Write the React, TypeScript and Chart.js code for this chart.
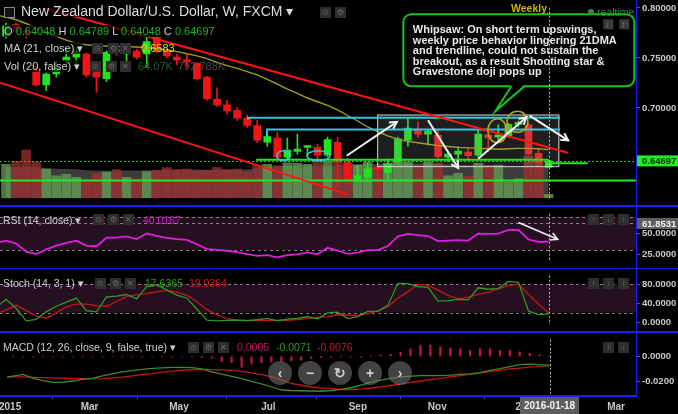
import React, { useEffect, useRef } from 'react';
import { Chart, registerables } from 'chart.js';
Chart.register(...registerables);

const FONT = '"Liberation Sans", Arial, sans-serif';

// Weekly bars: index 0 = week of 2015-01-05, index 54 = week of 2016-01-18
const opens = [0.7719, 0.7833, 0.7771, 0.7401, 0.7231, 0.7339, 0.7472, 0.7509, 0.7540, 0.7370, 0.7293, 0.7586, 0.7540, 0.7570, 0.7540, 0.7709, 0.7570, 0.7509, 0.7466, 0.7447, 0.7308, 0.7086, 0.7031, 0.6975, 0.6898, 0.6824, 0.6657, 0.6697, 0.6506, 0.6565, 0.6604, 0.6607, 0.6528, 0.6656, 0.6459, 0.6290, 0.6306, 0.6398, 0.6352, 0.6459, 0.6676, 0.6790, 0.6737, 0.6728, 0.6506, 0.6537, 0.6559, 0.6528, 0.6731, 0.6707, 0.6722, 0.6836, 0.6830, 0.6546, 0.64048];
const highs = [0.7850, 0.7848, 0.7790, 0.7417, 0.7349, 0.7463, 0.7602, 0.7601, 0.7555, 0.7432, 0.7571, 0.7632, 0.7617, 0.7590, 0.7710, 0.7740, 0.7590, 0.7540, 0.7540, 0.7450, 0.7317, 0.7200, 0.7077, 0.7006, 0.6929, 0.6876, 0.6783, 0.6753, 0.6697, 0.6737, 0.6626, 0.6635, 0.6707, 0.6707, 0.6490, 0.6429, 0.6450, 0.6413, 0.6488, 0.6707, 0.6891, 0.6861, 0.6783, 0.6783, 0.6568, 0.6614, 0.6599, 0.6783, 0.6731, 0.6830, 0.6845, 0.6870, 0.6845, 0.6598, 0.64789];
const lows = [0.7700, 0.7753, 0.7700, 0.7216, 0.7176, 0.7308, 0.7441, 0.7416, 0.7308, 0.7154, 0.7262, 0.7525, 0.7370, 0.7490, 0.7416, 0.7550, 0.7500, 0.7432, 0.7401, 0.7278, 0.7077, 0.7015, 0.6938, 0.6876, 0.6806, 0.6651, 0.6614, 0.6491, 0.6491, 0.6537, 0.6525, 0.6491, 0.6509, 0.6213, 0.6260, 0.6259, 0.6259, 0.6244, 0.6281, 0.6444, 0.6620, 0.6707, 0.6630, 0.6494, 0.6460, 0.6429, 0.6491, 0.6506, 0.6568, 0.6670, 0.6707, 0.6810, 0.6530, 0.6383, 0.64048];
const closes = [0.7821, 0.7771, 0.7740, 0.7231, 0.7339, 0.7401, 0.7509, 0.7570, 0.7330, 0.7308, 0.7556, 0.7560, 0.7577, 0.7509, 0.7663, 0.7570, 0.7520, 0.7478, 0.7460, 0.7293, 0.7093, 0.7031, 0.6969, 0.6900, 0.6824, 0.6676, 0.6713, 0.6506, 0.6577, 0.6589, 0.6614, 0.6528, 0.6682, 0.6459, 0.6274, 0.6321, 0.6389, 0.6383, 0.6438, 0.6691, 0.6799, 0.6737, 0.6769, 0.6512, 0.6537, 0.6568, 0.6522, 0.6737, 0.6700, 0.6722, 0.6836, 0.6840, 0.6537, 0.6450, 0.64697];
// volume (thousands) and its moving average
const volumes = [550, 600, 780, 590, 475, 365, 390, 340, 300, 405, 425, 465, 340, 315, 435, 450, 500, 465, 475, 450, 455, 500, 465, 475, 430, 530, 550, 530, 575, 565, 550, 600, 600, 630, 565, 540, 590, 500, 565, 615, 590, 515, 590, 565, 365, 405, 355, 565, 540, 540, 265, 315, 690, 615, 64];
const volMA = [510, 512, 515, 512, 488, 480, 475, 470, 455, 450, 448, 447, 450, 452, 455, 460, 462, 465, 466, 465, 464, 462, 463, 465, 468, 490, 510, 520, 525, 528, 530, 528, 525, 532, 545, 550, 555, 556, 558, 560, 560, 558, 555, 552, 545, 540, 535, 530, 528, 525, 520, 515, 512, 510, 508];

// indicator lines start one week earlier (index -1)
const lineFirstIdx = -1;
const ma21 = [0.7929, 0.7910, 0.7882, 0.7845, 0.7799, 0.7753, 0.7716, 0.7679, 0.7646, 0.7632, 0.7623, 0.7619, 0.7614, 0.7614, 0.7609, 0.7605, 0.7595, 0.7581, 0.7563, 0.7544, 0.7521, 0.7493, 0.7456, 0.7424, 0.7396, 0.7364, 0.7331, 0.7285, 0.7238, 0.7187, 0.7146, 0.7099, 0.7062, 0.7025, 0.6980, 0.6924, 0.6869, 0.6809, 0.6762, 0.6720, 0.6688, 0.6665, 0.6651, 0.6637, 0.6623, 0.6614, 0.6605, 0.6600, 0.6595, 0.6591, 0.6586, 0.6591, 0.6595, 0.6595, 0.6591, 0.6583];
const rsi = [38.4, 41.3, 37.7, 28.2, 25.3, 30.8, 35.2, 38.7, 41.2, 35.3, 34.6, 44.8, 45.0, 46.5, 43.2, 49.9, 47.1, 44.7, 43.0, 42.1, 36.9, 31.2, 30.1, 28.9, 27.4, 25.0, 23.0, 23.9, 21.2, 23.9, 24.9, 27.2, 24.9, 32.9, 29.3, 25.5, 27.0, 30.0, 30.0, 34.8, 46.5, 49.5, 48.0, 46.8, 40.8, 41.4, 42.0, 41.4, 49.8, 49.5, 49.8, 54.1, 54.1, 42.6, 39.9, 40.02];
const stochK = [31.0, 48.0, 29.2, 2.6, 5.6, 21.7, 33.5, 42.4, 50.7, 24.4, 21.8, 53.1, 54.9, 58.4, 49.1, 75.7, 78.8, 68.2, 57.0, 50.5, 27.3, 4.3, 2.6, 3.9, 4.0, 3.2, 5.0, 8.0, 2.7, 6.4, 7.7, 11.9, 7.1, 19.6, 21.0, 7.4, 11.8, 22.7, 22.7, 35.3, 82.0, 81.5, 75.0, 73.5, 44.5, 45.5, 48.0, 47.0, 72.5, 69.5, 71.0, 86.0, 84.0, 23.5, 15.8, 17.64];
const stochD = [17.0, 26.0, 35.6, 24.4, 13.2, 8.3, 19.6, 32.4, 38.2, 38.0, 34.8, 33.5, 43.6, 54.2, 57.4, 60.0, 63.7, 67.1, 63.2, 56.5, 43.2, 26.3, 15.1, 7.4, 4.0, 3.4, 3.2, 3.9, 4.0, 4.0, 5.1, 7.5, 10.1, 11.7, 15.6, 15.1, 14.0, 17.8, 23.8, 32.5, 50.5, 64.5, 79.5, 77.5, 67.5, 56.5, 49.0, 53.0, 58.5, 63.0, 70.5, 77.0, 80.5, 58.5, 38.5, 19.04];
const macd = [-0.0171, -0.0157, -0.0144, -0.0173, -0.0194, -0.0207, -0.0206, -0.0196, -0.0184, -0.0174, -0.0155, -0.0139, -0.0124, -0.0113, -0.0103, -0.0096, -0.0091, -0.0088, -0.0088, -0.0089, -0.0100, -0.0123, -0.0141, -0.0159, -0.0177, -0.0199, -0.0220, -0.0242, -0.0268, -0.0272, -0.0274, -0.0276, -0.0278, -0.0272, -0.0263, -0.0250, -0.0229, -0.0207, -0.0189, -0.0175, -0.0164, -0.0157, -0.0154, -0.0154, -0.0154, -0.0150, -0.0143, -0.0139, -0.0129, -0.0112, -0.0098, -0.0082, -0.0066, -0.0062, -0.0066, -0.0071];
const signal = [-0.0164, -0.0164, -0.0164, -0.0167, -0.0170, -0.0172, -0.0174, -0.0176, -0.0178, -0.0179, -0.0177, -0.0172, -0.0165, -0.0155, -0.0146, -0.0137, -0.0126, -0.0117, -0.0111, -0.0106, -0.0105, -0.0106, -0.0107, -0.0112, -0.0119, -0.0131, -0.0146, -0.0164, -0.0187, -0.0216, -0.0230, -0.0244, -0.0251, -0.0257, -0.0264, -0.0264, -0.0261, -0.0254, -0.0243, -0.0232, -0.0221, -0.0207, -0.0196, -0.0186, -0.0175, -0.0164, -0.0154, -0.0143, -0.0132, -0.0121, -0.0111, -0.0100, -0.0093, -0.0086, -0.0079, -0.0076];
const hist = [-0.0003, -0.0004, -0.0003, -0.0005, -0.0004, -0.0003, -0.0004, -0.0003, -0.0004, -0.0003, -0.0004, -0.0003, -0.0004, -0.0003, -0.0004, -0.0003, -0.0004, -0.0003, -0.0004, -0.0008, -0.0015, -0.0040, -0.0050, -0.0085, -0.0060, -0.0050, -0.0045, -0.0040, -0.0035, -0.0030, -0.0015, -0.0010, -0.0006, -0.0004, -0.0003, -0.0002, 0.0003, 0.0010, 0.0017, 0.0032, 0.0061, 0.0086, 0.0091, 0.0074, 0.0066, 0.0061, 0.0049, 0.0061, 0.0061, 0.0049, 0.0049, 0.0037, 0.0025, 0.0012, 0.0005];

const monthTickIdx = [0, 8, 17, 26, 35, 43, 52, 61];
const monthTickLabels = ['2015', 'Mar', 'May', 'Jul', 'Sep', 'Nov', '2016', 'Mar'];
const priceTicks = [0.7, 0.75, 0.8];
const rsiTicks = [25, 50];
const stochTicks = [0, 40, 80];
const macdTicks = [0, -0.02];
const lastIdx = 54;
const lastDate = '2016-01-18';
const lastPrice = 0.64697;
const rsiMarker = 61.8531;

// drawings (bar index, price)
const trendLines = [
  { x1: 3.68, y1: 0.8003, x2: 55.92, y2: 0.6552 },
  { x1: -0.6, y1: 0.7253, x2: 33.93, y2: 0.6137 },
];
const cyanLevels = [
  { x1: 24.08, x2: 55.12, y: 0.6901, tick: 0.6885 },
  { x1: 25.97, x2: 55.12, y: 0.6783, tick: 0.6707 },
];
const greenLevels = [
  { x1: 24.9, x2: 54.0, y: 0.6480 },
  { x1: 53.9, x2: 57.9, y: 0.6445 },
  { x1: -0.6, x2: 62.7, y: 0.6274 },
];
const rangeBox = { x1: 36.98, x2: 55.02, y1: 0.6929, y2: 0.6413 };
const whiteArrows = [
  { x1: 33.9, y1: 0.6521, x2: 38.9, y2: 0.6861 },
  { x1: 42.0, y1: 0.6876, x2: 45.0, y2: 0.6398 },
  { x1: 47.0, y1: 0.6491, x2: 51.8, y2: 0.6907 },
  { x1: 52.1, y1: 0.6922, x2: 55.95, y2: 0.6676 },
];
const rsiArrow = { x1: 51.0, y1: 63.1, x2: 54.9, y2: 42.9 };
const cyanEllipses = [
  { x: 27.6, y: 0.6521, rx: 6.5, ry: 5 },
  { x: 31.1, y: 0.6521, rx: 11.5, ry: 5 },
];
const yellowCircles = [
  { x: 48.9, y: 0.6771, rx: 9.5, ry: 12 },
  { x: 50.9, y: 0.6861, rx: 10.5, ry: 10.5 },
];
const calloutAnchor = { x: 48.7, y: 0.6966 };
const calloutLines = [
  'Whipsaw: On short term upswings,',
  'weekly price behavior lingering 21DMA',
  'and trendline, could not sustain the',
  'breakout, as a result Shooting star &',
  'Gravestone doji pops up',
];

const X_MIN = -0.6;
const X_MAX = 62.7;
const GREEN = '#1de41d';
const RED = '#f01414';

const up = opens.map((o, i) => closes[i] >= o);
const idx = opens.map((_, i) => i);
const lineData = (arr: number[]) => arr.map((v, k) => ({ x: k + lineFirstIdx, y: v }));

function yAxis(min: number, max: number, ticks: number[], digits: number) {
  return {
    position: 'right',
    min,
    max,
    afterFit: (s: any) => { s.width = 42; },
    afterBuildTicks: (s: any) => { s.ticks = ticks.map((v) => ({ value: v })); },
    ticks: {
      callback: (v: any) => Number(v).toFixed(digits),
      color: '#c8c8c8',
      font: { family: FONT, size: 9.5, weight: 'bold' },
      padding: 2,
      autoSkip: false,
    },
    grid: { drawOnChartArea: false, drawTicks: true, tickLength: 4, color: '#4b4bff' },
    border: { display: false },
  };
}
const xHidden = { type: 'linear', min: X_MIN, max: X_MAX, display: false, offset: false };
const baseOptions = {
  responsive: false,
  animation: false,
  devicePixelRatio: 1,
  events: [],
  layout: { padding: 0, autoPadding: false },
  plugins: { legend: { display: false }, tooltip: { enabled: false } },
};

function cursor(chart: any, extraBottom = 0) {
  const { ctx, chartArea } = chart;
  const x = Math.round(chart.scales.x.getPixelForValue(lastIdx)) + 0.5;
  ctx.save();
  ctx.strokeStyle = 'rgba(215,215,215,0.85)';
  ctx.lineWidth = 1;
  ctx.setLineDash([2, 2]);
  ctx.beginPath();
  ctx.moveTo(x, chartArea.top);
  ctx.lineTo(x, chartArea.bottom + extraBottom);
  ctx.stroke();
  ctx.restore();
}
function axisBox(chart: any, value: number, text: string, bg: string, fg: string) {
  const { ctx, chartArea } = chart;
  const y = chart.scales.y.getPixelForValue(value);
  ctx.save();
  ctx.fillStyle = bg;
  ctx.fillRect(chartArea.right + 1, y - 5.5, 42, 11);
  ctx.fillStyle = fg;
  ctx.font = `bold 9.5px ${FONT}`;
  ctx.textBaseline = 'middle';
  ctx.fillText(text, chartArea.right + 6, y + 0.5);
  ctx.restore();
}
function drawArrow(ctx: any, x1: number, y1: number, x2: number, y2: number) {
  ctx.beginPath();
  ctx.moveTo(x1, y1);
  ctx.lineTo(x2, y2);
  ctx.stroke();
  const a = Math.atan2(y2 - y1, x2 - x1);
  const L = 8;
  const w = 0.5;
  ctx.beginPath();
  ctx.moveTo(x2 - L * Math.cos(a - w), y2 - L * Math.sin(a - w));
  ctx.lineTo(x2, y2);
  ctx.lineTo(x2 - L * Math.cos(a + w), y2 - L * Math.sin(a + w));
  ctx.stroke();
}
function bandAndLines(chart: any, hi: number, lo: number, dotted: number[]) {
  const { ctx, chartArea } = chart;
  const Y = (v: number) => chart.scales.y.getPixelForValue(v);
  ctx.save();
  ctx.fillStyle = '#260f20';
  ctx.fillRect(chartArea.left, Y(hi), chartArea.width, Y(lo) - Y(hi));
  ctx.strokeStyle = 'rgba(170,170,170,0.75)';
  ctx.setLineDash([3, 3]);
  ctx.lineWidth = 1;
  dotted.forEach((v) => {
    const y = Math.round(Y(v)) + 0.5;
    ctx.beginPath();
    ctx.moveTo(chartArea.left, y);
    ctx.lineTo(chartArea.right, y);
    ctx.stroke();
  });
  ctx.restore();
}

const mainDecor = {
  id: 'mainDecor',
  afterDatasetsDraw(chart: any) {
    const { ctx, chartArea: ca } = chart;
    const X = (v: number) => chart.scales.x.getPixelForValue(v);
    const Y = (v: number) => chart.scales.y.getPixelForValue(v);
    ctx.save();
    ctx.beginPath();
    ctx.rect(ca.left, ca.top, ca.width, ca.height);
    ctx.clip();
    ctx.fillStyle = 'rgba(150,150,150,0.2)';
    ctx.strokeStyle = 'rgba(215,215,215,0.85)';
    ctx.lineWidth = 1.2;
    const bx = X(rangeBox.x1), by = Y(rangeBox.y1);
    const bw = X(rangeBox.x2) - bx, bh = Y(rangeBox.y2) - by;
    ctx.fillRect(bx, by, bw, bh);
    ctx.strokeRect(bx, by, bw, bh);
    ctx.strokeStyle = '#2ec8da';
    ctx.lineWidth = 2;
    cyanLevels.forEach((l) => {
      ctx.beginPath();
      ctx.moveTo(X(l.x1), Y(l.tick));
      ctx.lineTo(X(l.x1), Y(l.y));
      ctx.lineTo(X(l.x2), Y(l.y));
      ctx.stroke();
    });
    ctx.strokeStyle = '#22e622';
    greenLevels.forEach((l) => {
      ctx.beginPath();
      ctx.moveTo(X(l.x1), Y(l.y));
      ctx.lineTo(X(l.x2), Y(l.y));
      ctx.stroke();
    });
    ctx.save();
    ctx.strokeStyle = '#27c027';
    ctx.lineWidth = 1;
    ctx.setLineDash([2, 2]);
    const ly = Math.round(Y(lastPrice)) + 0.5;
    ctx.beginPath();
    ctx.moveTo(ca.left, ly);
    ctx.lineTo(ca.right, ly);
    ctx.stroke();
    ctx.restore();
    ctx.strokeStyle = '#ff1414';
    ctx.lineWidth = 2;
    trendLines.forEach((t) => {
      ctx.beginPath();
      ctx.moveTo(X(t.x1), Y(t.y1));
      ctx.lineTo(X(t.x2), Y(t.y2));
      ctx.stroke();
    });
    ctx.lineWidth = 1.5;
    ctx.strokeStyle = '#2ec8da';
    cyanEllipses.forEach((e) => {
      ctx.beginPath();
      ctx.ellipse(X(e.x), Y(e.y), e.rx, e.ry, 0, 0, Math.PI * 2);
      ctx.stroke();
    });
    ctx.strokeStyle = '#b8a818';
    yellowCircles.forEach((e) => {
      ctx.beginPath();
      ctx.ellipse(X(e.x), Y(e.y), e.rx, e.ry, 0, 0, Math.PI * 2);
      ctx.stroke();
    });
    ctx.strokeStyle = '#f2f2f2';
    ctx.lineWidth = 2;
    whiteArrows.forEach((a) => drawArrow(ctx, X(a.x1), Y(a.y1), X(a.x2), Y(a.y2)));
    ctx.restore();
  },
  afterDraw(chart: any) {
    const { ctx } = chart;
    const X = (v: number) => chart.scales.x.getPixelForValue(v);
    const Y = (v: number) => chart.scales.y.getPixelForValue(v);
    axisBox(chart, lastPrice, lastPrice.toFixed(5), '#22ee22', '#0b2a0b');
    const tx = X(calloutAnchor.x), ty = Y(calloutAnchor.y);
    const left = tx - 92, top = ty - 97, w = 231, h = 72, r = 8;
    ctx.save();
    ctx.beginPath();
    ctx.roundRect(left, top, w, h, r);
    ctx.fillStyle = '#000';
    ctx.fill();
    ctx.strokeStyle = '#19c419';
    ctx.lineWidth = 2;
    ctx.stroke();
    ctx.beginPath();
    ctx.moveTo(tx + 16, top + h - 1.5);
    ctx.lineTo(tx, ty);
    ctx.lineTo(tx + 29, top + h - 1.5);
    ctx.closePath();
    ctx.fill();
    ctx.beginPath();
    ctx.moveTo(tx + 16, top + h);
    ctx.lineTo(tx, ty);
    ctx.lineTo(tx + 29, top + h);
    ctx.stroke();
    ctx.fillStyle = '#e8e8e8';
    let fs = 10.5;
    ctx.font = `bold ${fs}px ${FONT}`;
    const widest = Math.max(...calloutLines.map((l) => ctx.measureText(l).width));
    fs = fs * 204 / widest;
    ctx.font = `bold ${fs}px ${FONT}`;
    ctx.textBaseline = 'middle';
    calloutLines.forEach((l, k) => ctx.fillText(l, left + 9.5, top + 16 + k * 10.5));
    ctx.fillStyle = '#3a3a3a';
    ctx.fillRect(left + 200, top + 5, 10, 10);
    ctx.fillRect(left + 216, top + 5, 10, 10);
    ctx.fillStyle = '#8a8a8a';
    ctx.font = `8px ${FONT}`;
    ctx.fillText('↓', left + 202, top + 10.5);
    ctx.fillText('↕', left + 218, top + 10.5);
    ctx.restore();
    cursor(chart);
  },
};

const rsiDecor = {
  id: 'rsiDecor',
  beforeDatasetsDraw(chart: any) { bandAndLines(chart, 70, 30, [70, rsiMarker, 30]); },
  afterDraw(chart: any) {
    const { ctx } = chart;
    const X = (v: number) => chart.scales.x.getPixelForValue(v);
    const Y = (v: number) => chart.scales.y.getPixelForValue(v);
    ctx.save();
    ctx.strokeStyle = '#eeeeee';
    ctx.lineWidth = 1.6;
    drawArrow(ctx, X(rsiArrow.x1), Y(rsiArrow.y1), X(rsiArrow.x2), Y(rsiArrow.y2));
    ctx.restore();
    axisBox(chart, rsiMarker, rsiMarker.toFixed(4), '#5e5e5e', '#f0f0f0');
    cursor(chart);
  },
};
const stochDecor = {
  id: 'stochDecor',
  beforeDatasetsDraw(chart: any) { bandAndLines(chart, 80, 20, [80, 20]); },
  afterDraw(chart: any) { cursor(chart); },
};
const macdDecor = {
  id: 'macdDecor',
  afterDraw(chart: any) {
    const { ctx, chartArea } = chart;
    cursor(chart, 2);
    const x = chart.scales.x.getPixelForValue(lastIdx);
    ctx.save();
    ctx.font = `bold 10px ${FONT}`;
    const w = ctx.measureText(lastDate).width + 8;
    ctx.fillStyle = '#5c5c5c';
    ctx.fillRect(x - w / 2, chartArea.bottom + 1, w, 18);
    ctx.fillStyle = '#f4f4f4';
    ctx.textBaseline = 'middle';
    ctx.textAlign = 'center';
    ctx.fillText(lastDate, x, chartArea.bottom + 10);
    ctx.restore();
  },
};

function useChart(ref: any, make: () => any) {
  useEffect(() => {
    const c = new Chart(ref.current, make());
    return () => c.destroy();
  }, []);
}

const Txt = ({ x, y, c = '#cfcfcf', s = 11, b = false, bg, children }: any) => (
  <div style={{ position: 'absolute', left: x, top: y, color: c, font: `${b ? 'bold ' : ''}${s}px ${FONT}`, lineHeight: '12px', whiteSpace: 'nowrap', background: bg }}>{children}</div>
);
const Icon = ({ x, y, g = '' }: any) => (
  <div style={{ position: 'absolute', left: x, top: y, width: 11, height: 11, background: '#2e2e2e', color: '#6a6a6a', font: `8px ${FONT}`, lineHeight: '11px', textAlign: 'center' }}>{g}</div>
);
const HLine = ({ y, w = 678 }: any) => (
  <div style={{ position: 'absolute', left: 0, top: y, width: w, height: 1.5, background: '#1c1cff' }} />
);

export default function App() {
  const mainRef = useRef<HTMLCanvasElement>(null);
  const rsiRef = useRef<HTMLCanvasElement>(null);
  const stochRef = useRef<HTMLCanvasElement>(null);
  const macdRef = useRef<HTMLCanvasElement>(null);

  useChart(mainRef, () => ({
    type: 'bar',
    data: {
      datasets: [
        { type: 'line', data: lineData(ma21), borderColor: '#a49e12', borderWidth: 1.4, pointRadius: 0, yAxisID: 'y', order: 1 },
        { type: 'bar', data: idx.map((i) => ({ x: i, y: [opens[i], closes[i]] })), backgroundColor: up.map((u) => (u ? GREEN : RED)), barThickness: 7, grouped: false, minBarLength: 2, yAxisID: 'y', order: 2 },
        { type: 'bar', data: idx.map((i) => ({ x: i, y: [lows[i], highs[i]] })), backgroundColor: up.map((u) => (u ? GREEN : RED)), barThickness: 1, grouped: false, yAxisID: 'y', order: 3 },
        { type: 'bar', data: idx.map((i) => ({ x: i, y: volumes[i] })), backgroundColor: up.map((u) => (u ? 'rgba(105,165,90,0.72)' : 'rgba(165,48,48,0.72)')), barThickness: 9, grouped: false, yAxisID: 'yv', order: 4 },
        { type: 'line', data: volMA.map((v, i) => ({ x: i, y: v })), fill: 'origin', backgroundColor: 'rgba(125,125,125,0.48)', borderWidth: 0, pointRadius: 0, yAxisID: 'yv', order: 5 },
      ],
    },
    options: {
      ...baseOptions,
      scales: {
        x: xHidden,
        y: yAxis(0.60954, 0.8003, priceTicks, 5),
        yv: { type: 'linear', display: false, min: 0, max: 3090 },
      },
    },
    plugins: [mainDecor],
  }));

  useChart(rsiRef, () => ({
    type: 'line',
    data: { datasets: [{ data: lineData(rsi), borderColor: '#e11ee1', borderWidth: 1.8, pointRadius: 0 }] },
    options: { ...baseOptions, scales: { x: xHidden, y: yAxis(17.7, 73.6, rsiTicks, 4) } },
    plugins: [rsiDecor],
  }));

  useChart(stochRef, () => ({
    type: 'line',
    data: {
      datasets: [
        { data: lineData(stochK), borderColor: '#2f9a22', borderWidth: 1.3, pointRadius: 0 },
        { data: lineData(stochD), borderColor: '#c81616', borderWidth: 1.3, pointRadius: 0 },
      ],
    },
    options: { ...baseOptions, scales: { x: xHidden, y: yAxis(-4.6, 98.1, stochTicks, 4) } },
    plugins: [stochDecor],
  }));

  useChart(macdRef, () => ({
    type: 'bar',
    data: {
      datasets: [
        { type: 'line', data: lineData(macd), borderColor: '#3a8c26', borderWidth: 1.3, pointRadius: 0, order: 1 },
        { type: 'line', data: lineData(signal), borderColor: '#c41616', borderWidth: 1.3, pointRadius: 0, order: 2 },
        { type: 'bar', data: idx.map((i) => ({ x: i, y: hist[i] })), backgroundColor: '#c8105a', barThickness: 1.5, grouped: false, order: 3 },
      ],
    },
    options: {
      ...baseOptions,
      scales: {
        x: {
          type: 'linear',
          min: X_MIN,
          max: X_MAX,
          offset: false,
          position: 'bottom',
          afterFit: (s: any) => { s.height = 18; },
          afterBuildTicks: (s: any) => { s.ticks = monthTickIdx.map((v) => ({ value: v })); },
          ticks: {
            callback: (v: any) => monthTickLabels[monthTickIdx.indexOf(Number(v))] ?? '',
            color: '#c8c8c8',
            font: { family: FONT, size: 10, weight: 'bold' },
            padding: 2,
            labelOffset: -3,
            autoSkip: false,
            maxRotation: 0,
          },
          grid: { drawOnChartArea: false, drawTicks: true, tickLength: 3, color: '#4b4bff' },
          border: { display: false },
        },
        y: yAxis(-0.03158, 0.01333, macdTicks, 4),
      },
    },
    plugins: [macdDecor],
  }));

  const navGlyphs = ['‹', '−', '↻', '+', '›'];
  const legendBg = 'rgba(0,0,0,0.7)';

  return (
    <div style={{ position: 'fixed', left: 0, top: 0, width: 678, height: 414, background: '#000', overflow: 'hidden' }}>
      <canvas ref={mainRef} width={678} height={206} style={{ position: 'absolute', left: 0, top: 0 }} />
      <canvas ref={rsiRef} width={678} height={62} style={{ position: 'absolute', left: 0, top: 206 }} />
      <canvas ref={stochRef} width={678} height={64} style={{ position: 'absolute', left: 0, top: 268 }} />
      <canvas ref={macdRef} width={678} height={82} style={{ position: 'absolute', left: 0, top: 332 }} />

      <div style={{ position: 'absolute', left: 635.5, top: 0, width: 1.5, height: 397, background: '#1c1cff' }} />
      <HLine y={205} />
      <HLine y={267.5} />
      <HLine y={331} />
      <HLine y={395.3} w={637} />

      <div style={{ position: 'absolute', left: 4, top: 7, width: 9, height: 9, border: '1px solid #8a8a8a', background: '#111' }} />
      <Txt x={21} y={5} s={14} c="#dcdcdc" bg={legendBg}>New Zealand Dollar/U.S. Dollar, W, FXCM ▾</Txt>
      <Icon x={320} y={7} g="⊙" />
      <Icon x={335} y={7} g="⚙" />
      <Txt x={4} y={25} c="#d0d0d0" bg={legendBg}>
        O <span style={{ color: '#1fb51f' }}>0.64048</span> H <span style={{ color: '#1fb51f' }}>0.64789</span> L <span style={{ color: '#1fb51f' }}>0.64048</span> C <span style={{ color: '#1fb51f' }}>0.64697</span>
      </Txt>
      <Txt x={4} y={42} c="#cfcfcf" bg={legendBg}>MA (21, close) ▾</Txt>
      <Icon x={92} y={43} g="⊙" />
      <Icon x={108} y={43} g="⚙" />
      <Icon x={120} y={43} g="✕" />
      <Txt x={141} y={42} c="#dede00">0.6583</Txt>
      <Txt x={4} y={60} c="#cfcfcf" bg={legendBg}>Vol (20, false) ▾</Txt>
      <Icon x={90} y={61} g="⊙" />
      <Icon x={106} y={61} g="⚙" />
      <Icon x={120} y={61} g="✕" />
      <Txt x={138} y={60} c="#2d5e2d">64.07K</Txt>
      <Txt x={178} y={60} c="#4a4a4a">792.788K</Txt>
      <Txt x={511} y={2} s={10.5} b c="#c8b400">Weekly</Txt>
      <div style={{ position: 'absolute', left: 588, top: 9, width: 6, height: 6, borderRadius: 3, background: '#2e8b57' }} />
      <Txt x={597} y={6} s={10.5} c="#2e8b57">realtime</Txt>

      <Txt x={3} y={213.5} s={10.5} c="#cfcfcf">RSI (14, close) ▾</Txt>
      <Icon x={93} y={214} g="⊙" />
      <Icon x={108} y={214} g="⚙" />
      <Icon x={123} y={214} g="✕" />
      <Txt x={143} y={213.5} s={10.5} c="#c81ec8">40.0167</Txt>
      <Icon x={588} y={214} g="↑" />
      <Icon x={603} y={214} g="↓" />
      <Icon x={618} y={214} g="↕" />

      <Txt x={3} y={276.5} s={10.5} c="#cfcfcf">Stoch (14, 3, 1) ▾</Txt>
      <Icon x={95} y={278} g="⊙" />
      <Icon x={110} y={278} g="⚙" />
      <Icon x={125} y={278} g="✕" />
      <Txt x={145} y={276.5} s={10.5} c="#22a622">17.6365</Txt>
      <Txt x={189} y={276.5} s={10.5} c="#d81818">19.0364</Txt>
      <Icon x={588} y={278} g="↑" />
      <Icon x={603} y={278} g="↓" />
      <Icon x={618} y={278} g="↕" />

      <Txt x={3} y={341} s={10.5} c="#cfcfcf">MACD (12, 26, close, 9, false, true) ▾</Txt>
      <Icon x={188} y={342} g="⊙" />
      <Icon x={203} y={342} g="⚙" />
      <Icon x={218} y={342} g="✕" />
      <Txt x={237} y={341} s={10.5} c="#c8105a">0.0005</Txt>
      <Txt x={276} y={341} s={10.5} c="#2e9a22">-0.0071</Txt>
      <Txt x={317} y={341} s={10.5} c="#c81616">-0.0076</Txt>
      <Icon x={603} y={342} g="↑" />
      <Icon x={618} y={342} g="↕" />

      {navGlyphs.map((g, k) => (
        <div key={k} style={{ position: 'absolute', left: 268 + k * 30, top: 360.5, width: 24, height: 24, borderRadius: 12, background: 'rgba(120,120,120,0.55)', color: '#d0d0d0', font: `bold 14px ${FONT}`, lineHeight: '24px', textAlign: 'center' }}>{g}</div>
      ))}
    </div>
  );
}
